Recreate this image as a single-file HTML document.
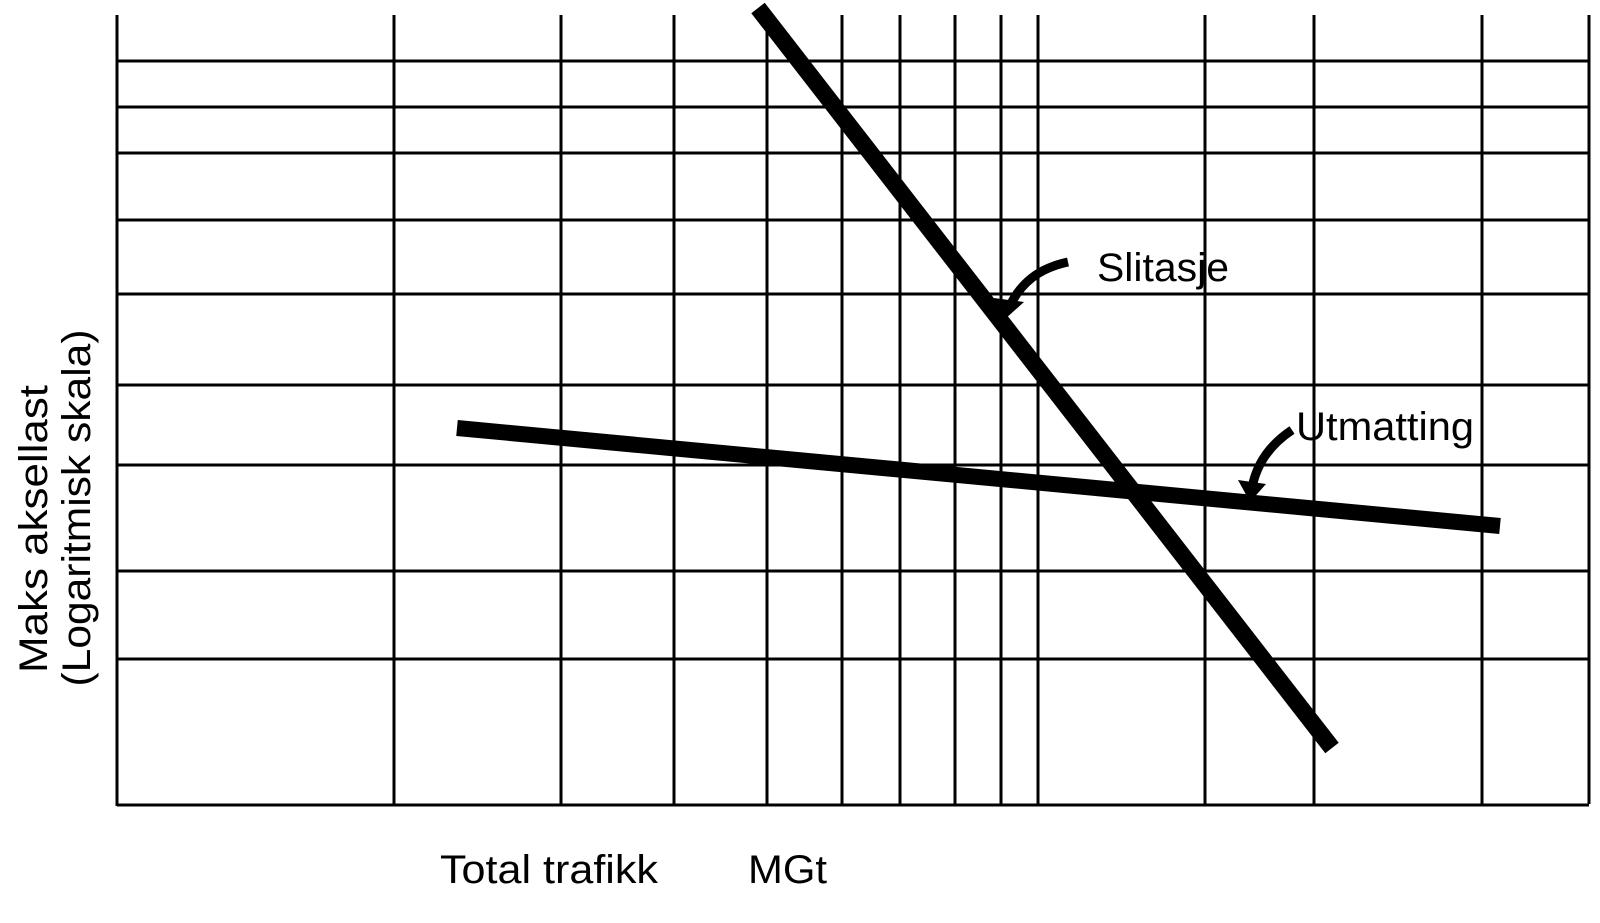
<!DOCTYPE html>
<html><head><meta charset="utf-8"><style>
html,body{margin:0;padding:0;background:#fff;}
svg{display:block;}
text{font-family:"Liberation Sans",sans-serif;fill:#000;}
</style></head><body>
<svg width="1600" height="923" viewBox="0 0 1600 923" xmlns="http://www.w3.org/2000/svg">
<g stroke="#000" stroke-width="3">
<line x1="117" y1="15" x2="117" y2="806"/>
<line x1="394" y1="15" x2="394" y2="804"/>
<line x1="561" y1="15" x2="561" y2="804"/>
<line x1="674" y1="15" x2="674" y2="804"/>
<line x1="767" y1="15" x2="767" y2="804"/>
<line x1="842" y1="15" x2="842" y2="804"/>
<line x1="900" y1="15" x2="900" y2="804"/>
<line x1="955" y1="15" x2="955" y2="804"/>
<line x1="1001" y1="15" x2="1001" y2="804"/>
<line x1="1038" y1="15" x2="1038" y2="804"/>
<line x1="1205" y1="15" x2="1205" y2="804"/>
<line x1="1314" y1="15" x2="1314" y2="804"/>
<line x1="1482" y1="15" x2="1482" y2="804"/>
<line x1="1589" y1="15" x2="1589" y2="804"/>
<line x1="117" y1="61" x2="1589" y2="61"/>
<line x1="117" y1="107" x2="1589" y2="107"/>
<line x1="117" y1="153" x2="1589" y2="153"/>
<line x1="117" y1="220" x2="1589" y2="220"/>
<line x1="117" y1="294" x2="1589" y2="294"/>
<line x1="117" y1="385" x2="1589" y2="385"/>
<line x1="117" y1="465" x2="1589" y2="465"/>
<line x1="117" y1="571" x2="1589" y2="571"/>
<line x1="117" y1="659" x2="1589" y2="659"/>
<line x1="117" y1="805" x2="1589" y2="805"/>
</g>
<line x1="758" y1="8" x2="1332" y2="748" stroke="#000" stroke-width="17"/>
<line x1="457" y1="428" x2="1500" y2="526" stroke="#000" stroke-width="16"/>
<path d="M1068,262 C1040,268 1020,282 1008,310" stroke="#000" stroke-width="9" fill="none"/>
<polygon points="1004,320 994,298 1024,302" fill="#000"/>
<path d="M1292,430 C1268,446 1256,466 1252,488" stroke="#000" stroke-width="9" fill="none"/>
<polygon points="1250,502 1238,480 1266,484" fill="#000"/>
<text x="1097" y="281" font-size="40" textLength="132" lengthAdjust="spacingAndGlyphs">Slitasje</text>
<text x="1296" y="440" font-size="40" textLength="178" lengthAdjust="spacingAndGlyphs">Utmatting</text>
<text x="440" y="883" font-size="40" textLength="218" lengthAdjust="spacingAndGlyphs">Total trafikk</text>
<text x="748" y="883" font-size="40" textLength="79" lengthAdjust="spacingAndGlyphs">MGt</text>
<text transform="translate(47,529) rotate(-90)" font-size="40" text-anchor="middle" textLength="288" lengthAdjust="spacingAndGlyphs">Maks aksellast</text>
<text transform="translate(90,508) rotate(-90)" font-size="40" text-anchor="middle" textLength="357" lengthAdjust="spacingAndGlyphs">(Logaritmisk skala)</text>
</svg>
</body></html>
